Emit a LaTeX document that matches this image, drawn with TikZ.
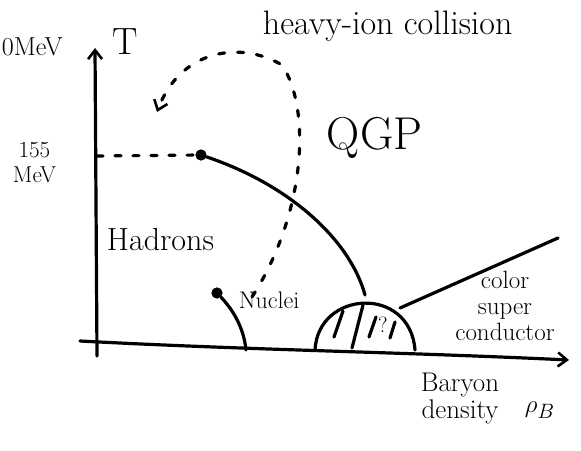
\documentclass[tikz,border=0pt]{standalone}
\usetikzlibrary{positioning,arrows.meta}
\usepackage{amsmath}

\tikzset{
  pen/.style={line width=3.2pt,line cap=round,line join=round},
  hand/.style={inner sep=0.75pt,align=center},
  tip/.style={-{Straight Barb[length=9pt,width=14pt,line width=2.6pt]}},
  dot/.style={circle,fill,inner sep=4pt}
}
\newcommand{\handsize}[2]{\fontsize{#1}{#2}\selectfont}

\begin{document}
\begin{tikzpicture}[x=1pt,y=1pt,yscale=-1,xscale=1]
\useasboundingbox (0,0) rectangle (581,450);

% axes
\coordinate (Tbot) at (97,356);
\coordinate (Ttop) at (95,48);
\coordinate (Bleft) at (80,341);
\coordinate (Bright) at (569,360);
\draw [pen,tip] (Tbot) -- (Ttop);
\draw [pen,tip] (Bleft) .. controls (250,350) and (400,352) .. (Bright);

% Text Node
\node [hand,anchor=west,font=\handsize{26}{26}] (unit) at (1,47) {0MeV};
\node [hand,anchor=west,font=\handsize{38}{38}] (T) at (112,42) {T};
\node [hand,anchor=north west,font=\handsize{23}{25}] (tc) at (12,141) {155\\MeV};
\node [hand,anchor=west,font=\handsize{34}{34}] (ion) at (262,26) {heavy-ion collision};
\node [hand,anchor=west,font=\handsize{46}{46}] (qgp) at (326,138) {QGP};
\node [hand,anchor=west,font=\handsize{32}{32}] (had) at (106,240) {Hadrons};
\node [hand,anchor=west,font=\handsize{24}{24}] (nuc) at (238,300) {Nuclei};
\node [hand,anchor=north,font=\handsize{25}{26}] (csc) at (505,270) {color\\super\\conductor};
\node [hand,anchor=north,font=\handsize{27}{27}] (bar) at (460,372) {Baryon\\density};
\node [hand,anchor=west,font=\handsize{40}{40}] (rho) at (524,410) {$\rho_{\scriptscriptstyle B}$};

% critical point and crossover line
\coordinate (tick) at (97,156);
\node [dot] (cep) at (201,155) {};
\draw [pen,dash pattern=on 6pt off 12pt] (tick) -- (cep);
\coordinate (top) at (365,295);
\draw [pen] (cep) .. controls (290,185) and (350,240) .. (top);

% nuclei line
\node [dot] (nd) at (217,293) {};
\coordinate (nf) at (246,350);
\draw [pen] (nd) .. controls (235,312) and (244,330) .. (nf);

% unknown dome
\coordinate (dl) at (315,350);
\coordinate (dr) at (415,350);
\draw [pen] (dl) .. controls (318,290) and (410,285) .. (dr);
\draw [pen] (334,337) -- (343,311);
\draw [pen] (352,348) -- (363,305);
\draw [pen] (369,337) -- (376,317);
\draw [pen] (390,338) -- (395,322);
\node [hand,font=\handsize{22}{22}] (q) at (383,325) {?};

% colour superconductor line
\coordinate (cs) at (558,238);
\draw [pen] (400,308) -- (cs);

% heavy-ion trajectory
\coordinate (hs) at (252,297);
\coordinate (he) at (157,112);
\draw [pen,dash pattern=on 6pt off 13pt,tip] (hs) .. controls (305,215) and (312,110) .. (282,65)
  .. controls (240,40) and (180,50) .. (he);

\end{tikzpicture}
\end{document}
